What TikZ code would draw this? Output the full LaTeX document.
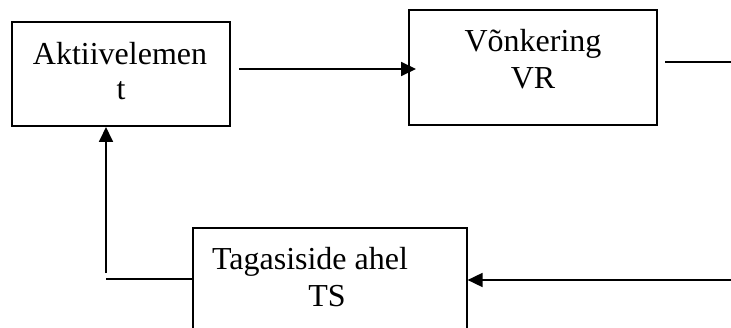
\documentclass[tikz,border=0pt]{standalone}
\usepackage{fontspec}
\setmainfont{Liberation Serif}
\usetikzlibrary{arrows.meta}
\begin{document}
\begin{tikzpicture}[x=1pt,y=1pt,
  blk/.style={draw,line width=1.6pt,inner sep=0pt,anchor=south west},
  lbl/.style={anchor=base,inner sep=0pt,font=\fontsize{32}{37}\selectfont},
  conn/.style={line width=1.8pt},
  arr/.style={conn,-{Triangle[length=15pt,width=14pt]}}]
\useasboundingbox (0,0) rectangle (731,327);
\clip (0,0) rectangle (731,327);
% boxes
\node[blk,minimum width=218pt,minimum height=104pt] (akt) at (11,200) {};
\node[blk,minimum width=248pt,minimum height=115pt] (vr) at (408,201) {};
\node[blk,minimum width=274pt,minimum height=120pt] (ts) at (192,-22) {};
% labels
\node[lbl] (akt1) at (120,262) {Aktiivelemen};
\node[lbl] (akt2) at (121,227) {t};
\node[lbl] (vr1) at (533,275) {Võnkering};
\node[lbl] (vr2) at (533,238) {VR};
\node[lbl] (ts1) at (310,58) {Tagasiside ahel};
\node[lbl] (ts2) at (327,21) {TS};
% connectors
\coordinate (c1) at (239,258);
\draw[arr] (c1) -- ([xshift=8pt]c1 -| vr.west);
\coordinate (c2) at (665,265);
\coordinate (c3) at (731,265);
\draw[conn] (c2) -- (c3);
\coordinate (c4) at (106,54);
\draw[arr] (c4) -- (c4 |- akt.south);
\coordinate (c5) at (106,48);
\draw[conn] (c5) -- (c5 -| ts.west);
\coordinate (c6) at (731,47);
\draw[arr] (c6) -- (c6 -| ts.east);
\end{tikzpicture}
\end{document}
